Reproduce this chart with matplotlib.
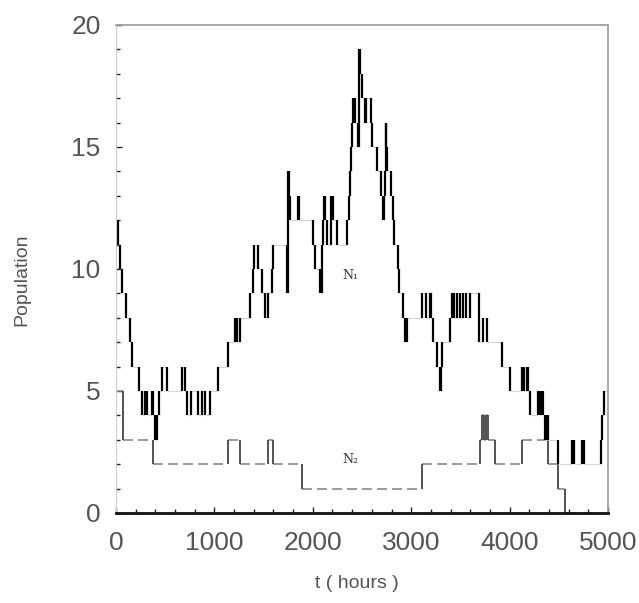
import numpy as np
import matplotlib
matplotlib.use("Agg")
from matplotlib import pyplot as plt
from matplotlib.ticker import MultipleLocator

# population N1 (jump times in hours, level after the jump)
n1_t = [0, 20, 45, 61, 100, 140, 165, 230, 264, 290, 315, 366, 376, 400, 417, 440,
        467, 518, 671, 701, 721, 760, 833, 870, 900, 955, 1040, 1138, 1209, 1230,
        1260, 1361, 1392, 1400, 1443, 1483, 1514, 1545, 1585, 1595, 1737, 1742, 1745,
        1748, 1760, 1770, 1849, 1860, 2002, 2022, 2073, 2093, 2100, 2110, 2123, 2140,
        2180, 2205, 2245, 2347, 2367, 2377, 2390, 2400, 2408, 2430, 2459, 2465, 2469,
        2480, 2500, 2530, 2540, 2590, 2601, 2652, 2690, 2713, 2720, 2733, 2740, 2745,
        2753, 2790, 2814, 2830, 2865, 2880, 2916, 2940, 2960, 3109, 3150, 3190, 3200,
        3221, 3260, 3292, 3300, 3312, 3393, 3413, 3440, 3470, 3500, 3525, 3556, 3600,
        3688, 3730, 3769, 3922, 4003, 4125, 4150, 4176, 4190, 4206, 4288, 4300, 4320,
        4340, 4360, 4379, 4390, 4491, 4633, 4650, 4735, 4760, 4928, 4938, 4960]
n1_v = [12, 11, 10, 9, 8, 7, 6, 5, 4, 5, 4, 5, 4, 3, 4, 5,
        6, 5, 6, 5, 4, 5, 4, 5, 4, 5, 6, 7, 8, 7,
        8, 9, 10, 11, 10, 9, 8, 9, 10, 11, 10, 9, 12,
        14, 13, 12, 13, 12, 11, 10, 9, 11, 12, 13, 12, 11,
        13, 12, 11, 12, 13, 14, 15, 16, 17, 16, 15, 17, 19,
        18, 17, 16, 17, 16, 15, 14, 13, 12, 13, 14, 16, 15,
        14, 13, 12, 11, 10, 9, 8, 7, 8, 9, 8, 9, 8,
        7, 6, 5, 6, 7, 8, 9, 8, 9, 8, 9, 8, 9,
        7, 8, 7, 6, 5, 6, 5, 6, 5, 4, 5, 4, 5,
        4, 3, 4, 3, 2, 3, 2, 3, 2, 3, 4, 5]

# population N2
n2_t = [0, 70, 376, 1138, 1260, 1544, 1600, 1890, 3109, 3698, 3720, 3740, 3760,
        3780, 3850, 4125, 4389, 4491, 4560]
n2_v = [5, 3, 2, 3, 2, 3, 2, 1, 2, 3, 4, 3, 4, 3, 2, 3, 2, 1, 0]

t_end = 5000
x_ticks = [0, 1000, 2000, 3000, 4000, 5000]
y_ticks = [0, 5, 10, 15, 20]


def draw_steps(ax, t, v, hcolor, vcolor, hstyle, hlw, vlw):
    t = np.asarray(t, dtype=float)
    v = np.asarray(v, dtype=float)
    t_next = np.append(t[1:], t_end)
    ax.hlines(v, t, t_next, colors=hcolor, linestyles=hstyle, lw=hlw)
    ax.vlines(t[1:], v[:-1], v[1:], colors=vcolor, lw=vlw)


fig = plt.figure(figsize=(6.39, 6.03), dpi=100)
ax = fig.add_axes([116 / 639, 90 / 603, 492 / 639, 488 / 603])

draw_steps(ax, n2_t, n2_v, '#8a8a8a', '#444444', (0, (6, 3)), 1.2, 1.3)
draw_steps(ax, n1_t, n1_v, '#d6d6d6', 'black', 'solid', 0.8, 1.6)

ax.text(2377, 9.75, 'N₁', family='DejaVu Serif', fontsize=9, color='#333333',
        ha='center', va='center')
ax.text(2377, 2.2, 'N₂', family='DejaVu Serif', fontsize=9, color='#333333',
        ha='center', va='center')

ax.set_xlim(0, 5000)
ax.set_ylim(0, 20)
ax.set_xticks(x_ticks)
ax.set_yticks(y_ticks)
ax.xaxis.set_minor_locator(MultipleLocator(200))
ax.yaxis.set_minor_locator(MultipleLocator(1))
ax.tick_params(which='both', direction='in', top=False, right=False,
               colors='#222222', labelcolor='#555555')
ax.tick_params(which='major', length=4, width=1)
ax.tick_params(which='minor', length=3, width=1)
ax.tick_params(axis='x', labelsize=19, pad=13)
ax.tick_params(axis='y', labelsize=19, pad=11)
for lab in ax.get_xticklabels() + ax.get_yticklabels():
    lab.set_family('Liberation Sans')

ax.spines['bottom'].set_color('#111111')
ax.spines['bottom'].set_linewidth(2)
ax.spines['left'].set_color('#cccccc')
ax.spines['left'].set_linewidth(0.8)
for s in ['top', 'right']:
    ax.spines[s].set_color('#9a9a9a')
    ax.spines[s].set_linewidth(1.2)

fig.text(22 / 639, 1 - 280 / 603, 'Population', rotation=90, fontsize=14,
         family='Liberation Sans', color='#555555', ha='center', va='center')
fig.text(357 / 639, 1 - 583 / 603, 't ( hours )', fontsize=14,
         family='Liberation Sans', color='#555555', ha='center', va='center')

fig.savefig('out.png', dpi=100)
